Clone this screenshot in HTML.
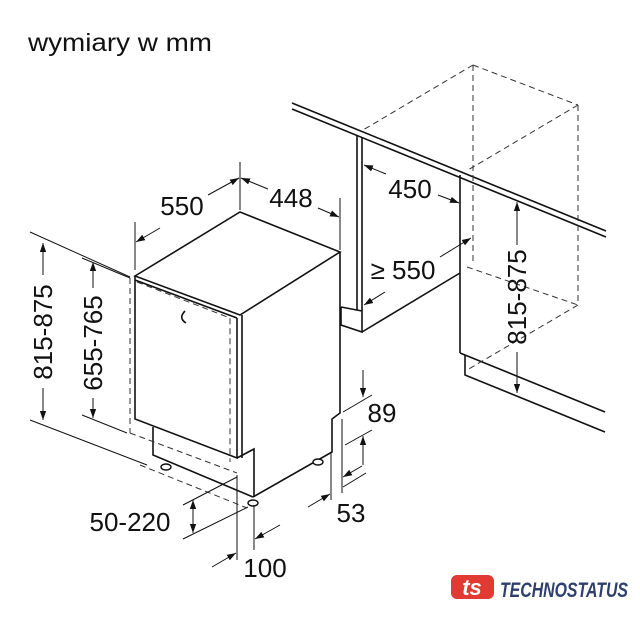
<!DOCTYPE html>
<html><head><meta charset="utf-8"><style>
html,body{margin:0;padding:0;background:#fff}
svg{display:block}
text{font-family:"Liberation Sans",sans-serif;fill:#111}
</style></head><body>
<svg width="640" height="640" viewBox="0 0 640 640" xmlns="http://www.w3.org/2000/svg">
<defs>
<marker id="a" viewBox="0 0 10 10" refX="10" refY="5" markerWidth="9" markerHeight="9" orient="auto-start-reverse" markerUnits="userSpaceOnUse">
<path d="M0,1.5 L10,5 L0,8.5 z" fill="#111"/></marker>
</defs>
<text x="28" y="51" font-size="25" textLength="184" lengthAdjust="spacingAndGlyphs">wymiary w mm</text>

<g fill="none" stroke="#111" stroke-width="1.6">
<line x1="292" y1="103" x2="606" y2="231"/>
<line x1="292" y1="109" x2="606" y2="237"/>
<line x1="357" y1="135" x2="357" y2="310"/>
<line x1="362" y1="137" x2="362" y2="311"/>
<polyline points="341,307 341,325 362,332 362,311 341,307"/>
<line x1="362" y1="332" x2="460" y2="273"/>
<line x1="460" y1="175" x2="460" y2="353"/>
<polyline points="460,353 465,355 605,412"/>
<polyline points="465,355 465,375 605,432"/>
<polygon points="135,276 240,212 340,252 240,315"/>
<line x1="135" y1="280" x2="237" y2="318"/>
<polyline points="135,276 135,419 237,458 237,318"/>
<line x1="242" y1="315" x2="242" y2="458"/>
<polyline points="340,252 340,413 332,419 332,452 253,497"/>
<polyline points="237,458 254,449 254,497"/>
<polyline points="153,427 153,455 253,497"/>
<path d="M185,311 q-7,7 1,12"/>
</g>
<g fill="#fff" stroke="#111" stroke-width="1.4">
<ellipse cx="166" cy="467" rx="5" ry="3"/>
<ellipse cx="253" cy="503" rx="5" ry="3"/>
<ellipse cx="318" cy="462" rx="5" ry="3"/>
</g>

<g fill="none" stroke="#333" stroke-width="1" stroke-dasharray="6,4">
<line x1="130" y1="278" x2="130" y2="433"/>
<polyline points="137,282 230,318 230,462"/>
<line x1="130" y1="433" x2="237" y2="473"/>
<line x1="140" y1="465" x2="247" y2="508"/>
<line x1="473" y1="65" x2="363" y2="130"/>
<line x1="473" y1="65" x2="578" y2="105"/>
<line x1="473" y1="65" x2="473" y2="265"/>
<line x1="578" y1="105" x2="578" y2="305"/>
<line x1="578" y1="105" x2="468" y2="170"/>
<line x1="467" y1="267" x2="578" y2="305"/>
<line x1="578" y1="305" x2="467" y2="370"/>
</g>

<g fill="none" stroke="#111" stroke-width="1">
<line x1="30" y1="232" x2="130" y2="277"/>
<line x1="30" y1="420" x2="147" y2="465"/>
<line x1="82" y1="258" x2="130" y2="278"/>
<line x1="82" y1="415" x2="127" y2="433"/>
<line x1="43" y1="275" x2="43" y2="243" marker-end="url(#a)"/>
<line x1="43" y1="388" x2="43" y2="420" marker-end="url(#a)"/>
<line x1="93" y1="288" x2="93" y2="262" marker-end="url(#a)"/>
<line x1="93" y1="398" x2="93" y2="418" marker-end="url(#a)"/>
<line x1="135" y1="222" x2="135" y2="270"/>
<line x1="240" y1="162" x2="240" y2="210"/>
<line x1="340" y1="198" x2="340" y2="250"/>
<line x1="160" y1="228" x2="136" y2="242" marker-end="url(#a)"/>
<line x1="208" y1="195" x2="239" y2="178" marker-end="url(#a)"/>
<line x1="268" y1="189" x2="241" y2="178" marker-end="url(#a)"/>
<line x1="318" y1="208" x2="339" y2="217" marker-end="url(#a)"/>
<line x1="386" y1="174" x2="364" y2="165" marker-end="url(#a)"/>
<line x1="438" y1="195" x2="459" y2="203" marker-end="url(#a)"/>
<line x1="385" y1="292" x2="364" y2="305" marker-end="url(#a)"/>
<line x1="440" y1="257" x2="471" y2="238" marker-end="url(#a)"/>
<line x1="517" y1="245" x2="517" y2="202" marker-end="url(#a)"/>
<line x1="517" y1="352" x2="517" y2="393" marker-end="url(#a)"/>
<line x1="343" y1="412" x2="372" y2="395"/>
<line x1="345" y1="445" x2="372" y2="430"/>
<line x1="343" y1="487" x2="366" y2="473"/>
<line x1="342" y1="419" x2="342" y2="493"/>
<line x1="331" y1="452" x2="331" y2="500"/>
<line x1="363" y1="370" x2="363" y2="397" marker-end="url(#a)"/>
<line x1="363" y1="465" x2="363" y2="436" marker-end="url(#a)"/>
<line x1="362" y1="466" x2="343" y2="477" marker-end="url(#a)"/>
<line x1="308" y1="507" x2="330" y2="494" marker-end="url(#a)"/>
<line x1="183" y1="505" x2="237" y2="477"/>
<line x1="183" y1="539" x2="248" y2="507"/>
<line x1="193" y1="517" x2="193" y2="500" marker-end="url(#a)"/>
<line x1="193" y1="517" x2="193" y2="533" marker-end="url(#a)"/>
<line x1="237" y1="475" x2="237" y2="560"/>
<line x1="254" y1="505" x2="254" y2="550"/>
<line x1="212" y1="567" x2="236" y2="553" marker-end="url(#a)"/>
<line x1="280" y1="525" x2="255" y2="539" marker-end="url(#a)"/>
</g>

<g font-size="26">
<text transform="translate(52,332) rotate(-90)" text-anchor="middle">815-875</text>
<text transform="translate(102,343) rotate(-90)" text-anchor="middle">655-765</text>
<text transform="translate(526,297) rotate(-90)" text-anchor="middle">815-875</text>
<text x="182" y="215" text-anchor="middle">550</text>
<text x="291" y="207" text-anchor="middle">448</text>
<text x="410" y="198" text-anchor="middle">450</text>
<text x="403" y="279" text-anchor="middle">≥ 550</text>
<text x="382" y="422" text-anchor="middle">89</text>
<text x="351" y="522" text-anchor="middle">53</text>
<text x="130" y="531" text-anchor="middle">50-220</text>
<text x="265" y="577" text-anchor="middle">100</text>
</g>

<rect x="451" y="575" width="43" height="24" rx="6" fill="#e03a32"/>
<text x="472" y="595" font-size="22" font-weight="bold" text-anchor="middle" style="fill:#fff" font-style="italic">ts</text>
<text x="500" y="597" font-size="21" font-weight="bold" font-style="italic" style="fill:#2e3f6e" textLength="128" lengthAdjust="spacingAndGlyphs">TECHNOSTATUS</text>
</svg>
</body></html>
